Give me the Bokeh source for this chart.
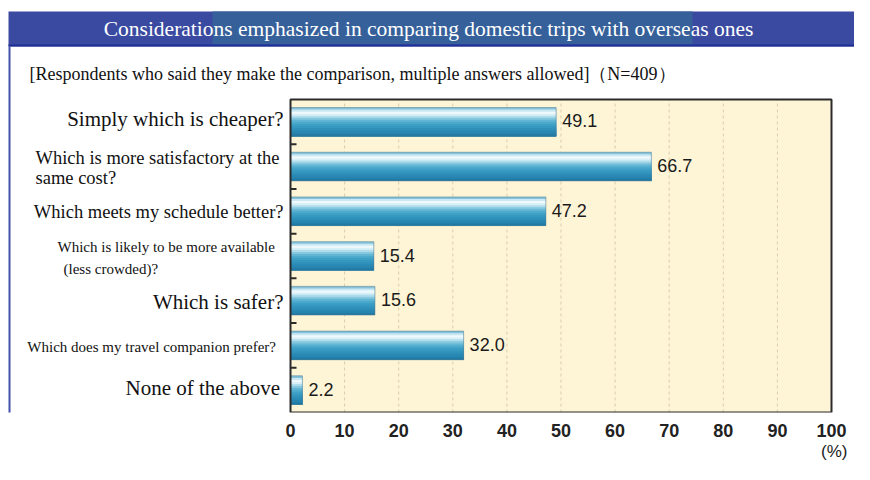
from bokeh.plotting import figure
from bokeh.models import Label, BoxAnnotation, FixedTicker, Range1d, ColumnDataSource, Title
from bokeh.embed import file_html
from bokeh.resources import INLINE
from bokeh.core.properties import value

# ---------------- data ----------------
categories = [
    "Simply which is cheaper?",
    "Which is more satisfactory at the same cost?",
    "Which meets my schedule better?",
    "Which is likely to be more available (less crowded)?",
    "Which is safer?",
    "Which does my travel companion prefer?",
    "None of the above",
]
values = [49.1, 66.7, 47.2, 15.4, 15.6, 32.0, 2.2]
x_ticks = [0, 10, 20, 30, 40, 50, 60, 70, 80, 90, 100]
title_text = "Considerations emphasized in comparing domestic trips with overseas ones"
subtitle_text = "[Respondents who said they make the comparison, multiple answers allowed]（N=409）"
unit_text = "(%)"

# how each category label is broken into lines (display only)
category_lines = [
    ["Simply which is cheaper?"],
    ["Which is more satisfactory at the", "same cost?"],
    ["Which meets my schedule better?"],
    ["Which is likely to be more available", "(less crowded)?"],
    ["Which is safer?"],
    ["Which does my travel companion prefer?"],
    ["None of the above"],
]

# ---------------- layout constants ----------------
W, H = 854, 464
PL, PR, PT, PB = 290, 831, 99, 412          # plot area in figure pixels
PW, PH = PR - PL, PB - PT
N = len(categories)
XMAX = x_ticks[-1]

# frame = whole canvas except bottom panel (axis)
x_start = -PL * XMAX / PW
x_end = XMAX + (W - PR) * XMAX / PW
y_start = 0
y_end = N + PT * N / PH


def rx(px):  # pixel x -> data x
    return (px - PL) * XMAX / PW


def ry(py):  # pixel y (from top) -> data y
    return (PB - py) * N / PH


# label styles: (font px, align, x per line (px), y offset per line (px, +down))
label_styles = [
    (21, "right", [283], [-3]),
    (18.5, "left", [35, 35], [-9, 11]),
    (18.5, "right", [283], [1]),
    (15, "left", [57, 63], [-9.5, 13]),
    (21, "right", [283], [1.5]),
    (15, "right", [275.5], [1.5]),
    (21, "right", [279.5], [-2.5]),
]

p = figure(width=W, height=H, x_range=Range1d(x_start, x_end), y_range=Range1d(y_start, y_end),
           output_backend="svg", toolbar_location=None, title=None,
           y_axis_location=None,
           min_border_left=0, min_border_right=0,
           min_border_top=0, min_border_bottom=H - PB)
p.background_fill_color = "white"
p.border_fill_color = "white"
p.outline_line_color = None
p.xgrid.grid_line_color = None
p.ygrid.grid_line_color = None

# header decoration
p.add_layout(BoxAnnotation(left=rx(8), right=rx(W + 20), top=ry(11), bottom=ry(46),
                           fill_color="#3a4aa0", fill_alpha=1, line_color=None))
p.add_layout(BoxAnnotation(left=rx(212), right=rx(692), top=ry(11), bottom=ry(44),
                           fill_color="#36609a", fill_alpha=1, line_color=None))
p.add_layout(BoxAnnotation(left=rx(8), right=rx(W + 20), top=ry(44), bottom=ry(46),
                           fill_color="#1f2f98", fill_alpha=1, line_color=None))
p.add_layout(BoxAnnotation(left=rx(8), right=rx(10), top=ry(46), bottom=ry(H + 20),
                           fill_color="#4252aa", fill_alpha=1, line_color=None))

# plot area background
p.quad(left=[0], right=[XMAX], bottom=[0], top=[N], fill_color="#fef4d6", line_color=None)

# dashed vertical grid at inner ticks
inner = x_ticks[1:-1]
p.segment(x0=inner, y0=[0] * len(inner), x1=inner, y1=[N] * len(inner),
          line_color="#d9cdae", line_dash="3 3", line_width=1)

# bars with a cylindrical gradient (layered strips, no gaps)
y_centers = [N - 0.5 - i for i in range(N)]
BH = 0.64
grad = ["#86c4dc", "#c9e8f3", "#f0fafd", "#daf0f8", "#b0ddec", "#84c7df",
        "#62b6d4", "#4ba9cc", "#3e9fc5", "#3598c0", "#2f90ba", "#2a8ab4",
        "#2684ae", "#217aa4"]
ns = len(grad)
step = BH / ns
for k, c in enumerate(grad):
    p.quad(left=[0] * N, right=values,
           top=[yc + BH / 2 - k * step for yc in y_centers],
           bottom=[yc - BH / 2 for yc in y_centers],
           fill_color=c, line_color=None)
p.quad(left=[0] * N, right=values,
       top=[yc + BH / 2 for yc in y_centers], bottom=[yc - BH / 2 for yc in y_centers],
       fill_color=None, line_color="#4f7c92", line_alpha=0.55, line_width=1)

# plot area border and inward tick marks between categories
p.quad(left=[0], right=[XMAX], bottom=[0], top=[N], fill_color=None,
       line_color="#2b2b2b", line_width=2)
ybound = list(range(1, N))
p.ray(x=[0] * len(ybound), y=ybound, length=6, length_units="screen", angle=0,
      line_color="#2b2b2b", line_width=2)

# value labels
src = ColumnDataSource(dict(x=values, y=y_centers, t=[f"{v:.1f}" for v in values]))
p.text(x="x", y="y", text="t", source=src, x_offset=6, y_offset=-1,
       text_baseline="middle", text_align="left",
       text_font=value("Liberation Sans"), text_font_size="18px", text_color="#1a1a1a")

# x axis
p.xaxis.ticker = FixedTicker(ticks=x_ticks)
p.xaxis.axis_line_color = None
p.xaxis.major_tick_line_color = None
p.xaxis.minor_tick_line_color = None
p.xaxis.major_tick_in = 0
p.xaxis.major_tick_out = 0
p.xaxis.major_label_standoff = 11
p.xaxis.major_label_text_font = "Liberation Sans"
p.xaxis.major_label_text_font_style = "bold"
p.xaxis.major_label_text_font_size = "18px"
p.xaxis.major_label_text_color = "#222222"

# unit text below the axis
p.add_layout(Title(text=unit_text, align="right", offset=W - 847, standoff=1,
                   text_font="Liberation Sans", text_font_style="normal",
                   text_font_size="17px", text_color="#222222"), "below")

# category labels
for i, (lines, style) in enumerate(zip(category_lines, label_styles)):
    fs, align, xs, dys = style
    for line, xr, dy in zip(lines, xs, dys):
        p.add_layout(Label(x=rx(xr), y=y_centers[i], y_offset=-dy, text=line,
                           text_align=align, text_baseline="middle",
                           text_font="Liberation Serif", text_font_size=f"{fs}px",
                           text_color="#111111"))

# title, subtitle
p.add_layout(Label(x=rx(428), y=ry(28), text=title_text, text_align="center",
                   text_baseline="middle", text_font="Liberation Serif",
                   text_font_size="21.5px", text_color="white"))
p.add_layout(Label(x=rx(29), y=ry(73), text=subtitle_text, text_align="left",
                   text_baseline="middle", text_font="Liberation Serif",
                   text_font_size="18px", text_color="#111111"))

open("out.html", "w").write(file_html(p, INLINE))
